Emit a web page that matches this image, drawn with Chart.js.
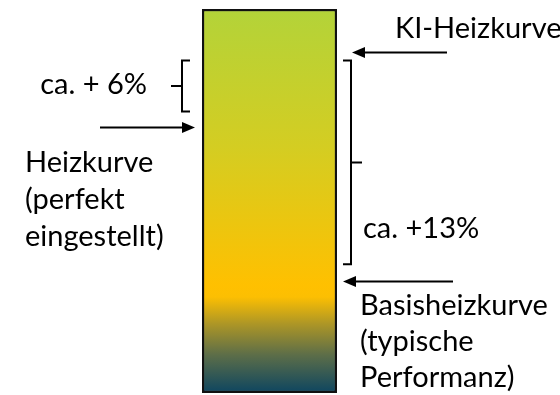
<!DOCTYPE html>
<html>
<head>
<meta charset="utf-8">
<script src="https://cdn.jsdelivr.net/npm/chart.js@4"></script>
<style>
  html, body { margin: 0; padding: 0; background: #fff; }
  #wrap { width: 560px; height: 395px; position: relative; }
</style>
</head>
<body>
<div id="wrap"><canvas id="chart"></canvas></div>
<script>
// bar spans the whole scale, annotations sit on levels of the same scale
const categories = ['Heizkurve'];
const barValues = [100];

// arrows pointing at the bar (level on the y scale)
const arrowLabels = ['KI-Heizkurve', 'Heizkurve', 'Basisheizkurve'];
const arrowLevels = [88.7, 69.4, 29.1];
const arrowSides = ['right', 'left', 'right'];

// braces: [from, to] on the y scale, and their labels
const braceRanges = [[86.6, 73.3], [86.6, 33.5]];
const braceLabels = ['ca. + 6%', 'ca. +13%'];
const braceSides = ['left', 'right'];

const FONT = '29px Lato';

function barGradient(ctx, area) {
  const g = ctx.createLinearGradient(0, area.top, 0, area.bottom);
  g.addColorStop(0, '#b3d339');
  g.addColorStop(0.36, '#d4cd22');
  g.addColorStop(0.72, '#ffc000');
  g.addColorStop(0.75, '#fcbf02');
  g.addColorStop(0.82, '#ad9626');
  g.addColorStop(0.9, '#5d6e48');
  g.addColorStop(1, '#0d4560');
  return g;
}

function arrow(ctx, x1, x2, y) {
  // line from x1 to tip x2
  const dir = x2 > x1 ? 1 : -1;
  ctx.beginPath();
  ctx.moveTo(x1, y);
  ctx.lineTo(x2 - dir * 10, y);
  ctx.stroke();
  ctx.beginPath();
  ctx.moveTo(x2, y);
  ctx.lineTo(x2 - dir * 13, y - 5.5);
  ctx.lineTo(x2 - dir * 13, y + 5.5);
  ctx.closePath();
  ctx.fill();
}

function brace(ctx, x, yTop, yBot, side) {
  // side = where the bar is; hooks point toward it, tick points away
  const s = side === 'right' ? -1 : 1;
  const yMid = (yTop + yBot) / 2;
  ctx.beginPath();
  ctx.moveTo(x + s * 8, yTop);
  ctx.lineTo(x, yTop);
  ctx.lineTo(x, yBot);
  ctx.lineTo(x + s * 8, yBot);
  ctx.moveTo(x, yMid);
  ctx.lineTo(x - s * 11, yMid);
  ctx.stroke();
}

const annotations = {
  id: 'annotations',
  afterDatasetsDraw(chart) {
    const { ctx, scales: { y }, chartArea } = chart;
    const left = chartArea.left, right = chartArea.right;
    ctx.save();
    ctx.strokeStyle = '#000';
    ctx.fillStyle = '#000';
    ctx.lineWidth = 2;
    ctx.font = FONT;
    ctx.textBaseline = 'alphabetic';

    // arrows
    arrowLevels.forEach((lvl, i) => {
      const py = Math.round(y.getPixelForValue(lvl)) + 0.5;
      if (arrowSides[i] === 'right') {
        const tail = i === 0 ? right + 110 : right + 116;
        arrow(ctx, tail, right + (i === 0 ? 15 : 6), py);
      } else {
        arrow(ctx, left - 102, left - 7, py);
      }
    });

    // braces
    braceRanges.forEach(([a, b], i) => {
      const yTop = y.getPixelForValue(a), yBot = y.getPixelForValue(b);
      if (braceSides[i] === 'left') brace(ctx, left - 20, yTop, yBot, 'left');
      else brace(ctx, right + 14, yTop, yBot, 'right');
    });

    // labels
    const ki = y.getPixelForValue(arrowLevels[0]);
    ctx.textAlign = 'left';
    ctx.fillText(arrowLabels[0], right + 58, ki - 14);

    const hz = y.getPixelForValue(arrowLevels[1]);
    ['Heizkurve', '(perfekt', 'eingestellt)'].forEach((t, k) => ctx.fillText(t, 25, hz + 45 + k * 37));

    const bs = y.getPixelForValue(arrowLevels[2]);
    ['Basisheizkurve', '(typische', 'Performanz)'].forEach((t, k) => ctx.fillText(t, right + 23, bs + 34 + k * 36));

    const [s0, s1] = braceRanges[0];
    ctx.textAlign = 'right';
    ctx.fillText(braceLabels[0], left - 55, (y.getPixelForValue(s0) + y.getPixelForValue(s1)) / 2 + 8);

    ctx.textAlign = 'left';
    ctx.fillText(braceLabels[1], right + 26, y.getPixelForValue(braceRanges[1][1]) - 26);
    ctx.restore();
  }
};

new Chart(document.getElementById('chart'), {
  type: 'bar',
  data: {
    labels: categories,
    datasets: [{
      data: barValues,
      backgroundColor: c => {
        const area = c.chart.chartArea;
        if (!area) return '#ffc000';
        return barGradient(c.chart.ctx, area);
      },
      borderColor: '#111',
      borderWidth: 2.5,
      borderSkipped: false,
      barPercentage: 1,
      categoryPercentage: 1,
    }],
  },
  options: {
    responsive: true,
    maintainAspectRatio: false,
    animation: false,
    layout: { padding: { left: 202, right: 223, top: 9, bottom: 2 } },
    plugins: { legend: { display: false }, tooltip: { enabled: false } },
    scales: {
      x: { display: false },
      y: { display: false, min: 0, max: 100 },
    },
  },
  plugins: [annotations],
});
</script>
</body>
</html>
